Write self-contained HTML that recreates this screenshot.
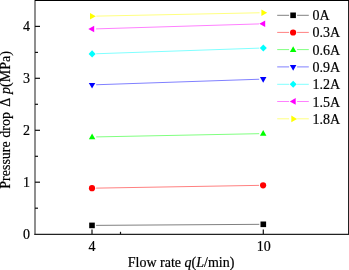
<!DOCTYPE html>
<html><head><meta charset="utf-8"><style>
html,body{margin:0;padding:0;background:#fff;width:349px;height:270px;overflow:hidden}
svg{display:block;will-change:transform}
text{font-family:"Liberation Serif",serif;fill:#000;stroke:#000;stroke-width:0.2px}
</style></head><body>
<svg width="349" height="270" viewBox="0 0 349 270">
<rect x="0" y="0" width="349" height="270" fill="#fff"/>
<g stroke-width="0.5" fill="none">
<line x1="96.10" y1="225.37" x2="259.30" y2="224.33" stroke="#000"/>
<line x1="96.10" y1="188.13" x2="259.10" y2="185.37" stroke="#f00"/>
<line x1="96.20" y1="136.92" x2="259.20" y2="133.68" stroke="#0f0"/>
<line x1="96.15" y1="84.76" x2="259.20" y2="79.24" stroke="#00f"/>
<line x1="96.20" y1="53.76" x2="259.30" y2="48.14" stroke="#0ff"/>
<line x1="96.10" y1="28.88" x2="259.00" y2="23.92" stroke="#f0f"/>
<line x1="96.30" y1="16.12" x2="259.60" y2="12.78" stroke="#ff0"/>
</g>
<rect x="89.20" y="222.60" width="5.6" height="5.6" fill="#000"/>
<rect x="260.50" y="221.50" width="5.6" height="5.6" fill="#000"/>
<circle cx="92.0" cy="188.2" r="3.1" fill="#f00"/>
<circle cx="263.1" cy="185.3" r="3.1" fill="#f00"/>
<polygon points="88.85,139.20 95.35,139.20 92.10,133.50" fill="#0f0"/>
<polygon points="259.95,135.80 266.45,135.80 263.20,130.10" fill="#0f0"/>
<polygon points="88.80,82.90 95.30,82.90 92.05,88.60" fill="#00f"/>
<polygon points="259.95,77.10 266.45,77.10 263.20,82.80" fill="#00f"/>
<polygon points="92.10,50.35 95.60,53.90 92.10,57.45 88.60,53.90" fill="#0ff"/>
<polygon points="263.30,44.45 266.80,48.00 263.30,51.55 259.80,48.00" fill="#0ff"/>
<polygon points="88.30,29.00 94.20,25.70 94.20,32.30" fill="#f0f"/>
<polygon points="259.30,23.80 265.20,20.50 265.20,27.10" fill="#f0f"/>
<polygon points="95.80,16.20 90.00,12.90 90.00,19.50" fill="#ff0"/>
<polygon points="267.20,12.70 261.40,9.40 261.40,16.00" fill="#ff0"/>
<g fill="none">
<line x1="35" y1="0" x2="35" y2="235" stroke-width="1.2" stroke="#444"/>
<line x1="34.4" y1="234.4" x2="349" y2="234.4" stroke-width="1.1" stroke="#222"/>
<line x1="348.5" y1="0" x2="348.5" y2="235" stroke-width="1.0" stroke="#222"/>
<line x1="35" y1="0.5" x2="349" y2="0.5" stroke-width="1.2" stroke="#000"/>
<g stroke-width="1.2" stroke="#111">
<line x1="35" y1="26.4" x2="40" y2="26.4"/>
<line x1="35" y1="78.3" x2="40" y2="78.3"/>
<line x1="35" y1="130.3" x2="40" y2="130.3"/>
<line x1="35" y1="182.2" x2="40" y2="182.2"/>
<line x1="35" y1="52.4" x2="38" y2="52.4"/>
<line x1="35" y1="104.3" x2="38" y2="104.3"/>
<line x1="35" y1="156.3" x2="38" y2="156.3"/>
<line x1="35" y1="208.2" x2="38" y2="208.2"/>
<line x1="92" y1="234" x2="92" y2="229.5"/>
<line x1="263.3" y1="234" x2="263.3" y2="229.5"/>
<line x1="120.5" y1="234" x2="120.5" y2="231.8"/>
</g>
</g>
<g font-size="14" text-anchor="end" transform="translate(-0.3,0)">
<text x="30.3" y="31.2">4</text>
<text x="30.3" y="83.1">3</text>
<text x="30.3" y="135.1">2</text>
<text x="30.3" y="187">1</text>
<text x="30.3" y="239">0</text>
</g>
<g font-size="14" text-anchor="middle">
<text x="92" y="250.6">4</text>
<text x="263.7" y="250.6">10</text>
</g>
<text x="127.8" y="267.1" font-size="14">Flow rate <tspan font-style="italic">q</tspan>(<tspan font-style="italic">L</tspan>/min)</text>
<g font-size="14">
<text transform="translate(9.9,188.7) rotate(-90)">Pressure drop</text>
<text transform="translate(9.9,106.7) rotate(-90)">Δ</text>
<text transform="translate(9.9,93.9) rotate(-90)"><tspan font-style="italic">p</tspan>(MPa)</text>
</g>
<g stroke-width="0.5" fill="none">
<path d="M277.2 15.3H289.1M297.1 15.3H308.8" stroke="#000"/>
<path d="M277.2 32.4H289.1M297.1 32.4H308.8" stroke="#f00"/>
<path d="M277.2 49.6H289.1M297.1 49.6H308.8" stroke="#0f0"/>
<path d="M277.2 66.9H289.1M297.1 66.9H308.8" stroke="#00f"/>
<path d="M277.2 84.3H289.1M297.1 84.3H308.8" stroke="#0ff"/>
<path d="M277.2 101.5H289.1M297.1 101.5H308.8" stroke="#f0f"/>
<path d="M277.2 118.8H289.1M297.1 118.8H308.8" stroke="#ff0"/>
</g>
<rect x="290.30" y="12.50" width="5.6" height="5.6" fill="#000"/>
<circle cx="293.1" cy="32.5" r="3.1" fill="#f00"/>
<polygon points="289.90,51.90 296.40,51.90 293.15,46.20" fill="#0f0"/>
<polygon points="289.90,65.00 296.40,65.00 293.15,70.70" fill="#00f"/>
<polygon points="293.20,80.75 296.70,84.30 293.20,87.85 289.70,84.30" fill="#0ff"/>
<polygon points="289.80,101.40 295.70,98.10 295.70,104.70" fill="#f0f"/>
<polygon points="297.10,118.90 291.30,115.60 291.30,122.20" fill="#ff0"/>
<g font-size="14">
<text x="312.5" y="20.3">0A</text>
<text x="312.5" y="37.4">0.3A</text>
<text x="312.5" y="54.6">0.6A</text>
<text x="312.5" y="71.9">0.9A</text>
<text x="312.5" y="89.3">1.2A</text>
<text x="312.5" y="106.5">1.5A</text>
<text x="312.5" y="123.8">1.8A</text>
</g>
</svg>
</body></html>
